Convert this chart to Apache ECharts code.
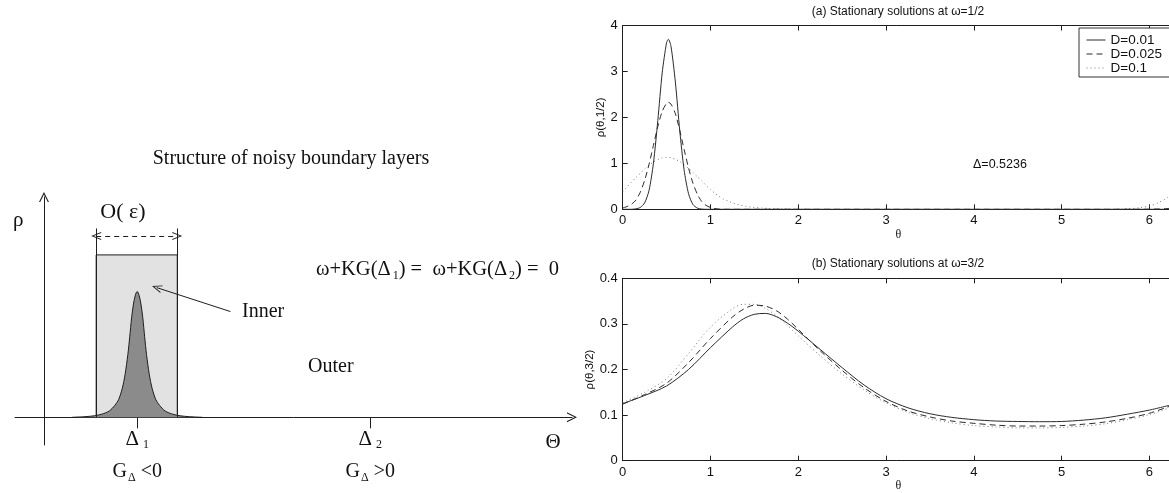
<!DOCTYPE html>
<html>
<head>
<meta charset="utf-8">
<script src="https://cdn.jsdelivr.net/npm/echarts@6/dist/echarts.min.js"></script>
<style>
  html, body { margin: 0; padding: 0; background: #fff; }
  #chart { width: 1169px; height: 493px; }
</style>
</head>
<body>
<div id="chart"></div>
<script>
// ---- (a) stationary densities at omega = 1/2 ----
const thetaA = [0, 0.05, 0.1, 0.15, 0.2, 0.25, 0.3, 0.35, 0.4, 0.45, 0.5, 0.52, 0.55, 0.6, 0.65, 0.7,
  0.75, 0.8, 0.85, 0.9, 0.95, 1.0, 1.05, 1.1, 1.15, 1.2, 1.25, 1.3, 1.35, 1.4, 1.45, 1.5, 1.6, 1.8,
  2.0, 2.5, 3.0, 4.0, 5.0, 5.5, 5.6, 5.7, 5.8, 5.9, 6.0, 6.1, 6.2, 6.2832];
const rhoA_D001 = [0, 0, 0, 0.01, 0.04, 0.14, 0.41, 1.0, 1.93, 2.97, 3.63, 3.70, 3.55, 2.77, 1.71, 0.85,
  0.34, 0.105, 0.026, 0.005, 0, 0, 0, 0, 0, 0, 0, 0, 0, 0, 0, 0, 0, 0,
  0, 0, 0, 0, 0, 0, 0, 0, 0, 0, 0, 0, 0, 0];
const rhoA_D0025 = [0.03, 0.06, 0.11, 0.20, 0.37, 0.63, 0.98, 1.39, 1.80, 2.13, 2.31, 2.33, 2.29, 2.08, 1.72, 1.30,
  0.90, 0.57, 0.33, 0.17, 0.085, 0.04, 0.015, 0.005, 0, 0, 0, 0, 0, 0, 0, 0, 0, 0,
  0, 0, 0, 0, 0, 0, 0, 0, 0, 0.001, 0.003, 0.007, 0.015, 0.03];
const rhoA_D01 = [0.38, 0.49, 0.59, 0.69, 0.78, 0.88, 0.96, 1.03, 1.08, 1.12, 1.13, 1.13, 1.12, 1.09, 1.04, 0.97,
  0.89, 0.80, 0.71, 0.62, 0.52, 0.43, 0.35, 0.28, 0.22, 0.18, 0.14, 0.11, 0.085, 0.065, 0.05, 0.04, 0.025, 0.01,
  0.003, 0, 0, 0, 0, 0, 0.003, 0.008, 0.017, 0.035, 0.07, 0.14, 0.25, 0.38];

// ---- (b) stationary densities at omega = 3/2 ----
const thetaB = [0, 0.25, 0.5, 0.75, 1.0, 1.25, 1.375, 1.5, 1.625, 1.75, 1.875, 2.0, 2.25, 2.5, 2.75, 3.0,
  3.25, 3.5, 3.75, 4.0, 4.25, 4.5, 4.75, 5.0, 5.25, 5.5, 5.75, 6.0, 6.2832];
const rhoB_D001 = [0.125, 0.143, 0.164, 0.200, 0.248, 0.293, 0.311, 0.321, 0.323, 0.316, 0.302, 0.284, 0.244, 0.204, 0.166, 0.136,
  0.116, 0.103, 0.095, 0.090, 0.087, 0.086, 0.0855, 0.086, 0.089, 0.094, 0.102, 0.111, 0.124];
const rhoB_D0025 = [0.124, 0.145, 0.170, 0.215, 0.268, 0.315, 0.332, 0.341, 0.339, 0.329, 0.311, 0.288, 0.241, 0.198, 0.160, 0.130,
  0.109, 0.096, 0.087, 0.082, 0.078, 0.076, 0.076, 0.077, 0.080, 0.085, 0.093, 0.104, 0.123];
const rhoB_D01 = [0.127, 0.150, 0.180, 0.235, 0.293, 0.333, 0.343, 0.343, 0.334, 0.318, 0.297, 0.274, 0.230, 0.190, 0.155, 0.127,
  0.106, 0.092, 0.083, 0.077, 0.074, 0.072, 0.072, 0.073, 0.076, 0.081, 0.090, 0.101, 0.120];

const seriesNames = ['D=0.01', 'D=0.025', 'D=0.1'];
const TWO_PI = 6.2832;

// ---- schematic of the boundary layers ----
const deltaMarks = [1, 3.5];
const deltaSubs = ['1', '2'];
const deltaSigns = ['<0', '>0'];
const innerLayer = [0.56, 1.43];
const layerTop = 1.29;
const bracketTop = 1.5;
const bracketArrowY = 1.44;
const innerArrow = [[2.0, 0.84], [1.21, 1.03]];
const peakX = [0.3, 0.44, 0.54, 0.62, 0.70, 0.76, 0.80, 0.84, 0.87, 0.90, 0.92, 0.94, 0.96, 0.98, 1.0,
  1.02, 1.04, 1.06, 1.08, 1.10, 1.13, 1.16, 1.20, 1.24, 1.30, 1.38, 1.46, 1.56, 1.70];
const peakY = [0, 0.005, 0.012, 0.025, 0.05, 0.095, 0.14, 0.23, 0.34, 0.5, 0.64, 0.79, 0.9, 0.97, 1.0,
  0.97, 0.9, 0.79, 0.64, 0.5, 0.34, 0.23, 0.14, 0.095, 0.05, 0.025, 0.012, 0.005, 0];

const pairs = (xs, ys) => xs.map((x, i) => [x, ys[i]]);

const SANS = 'Liberation Sans';
const SERIF = 'Liberation Serif';
const INK = '#1e1e1e';
const openArrow = 'path://M5,0 L10,10 L8.8,10 L5,2.4 L1.2,10 L0,10 Z';

const lineStyles = [
  { color: '#2b2b2b', width: 1, type: 'solid' },
  { color: '#2b2b2b', width: 1, type: [6, 4] },
  { color: '#7a7a7a', width: 1, type: [1, 3] }
];

function frameX(gridIndex, nameGap) {
  const base = {
    type: 'value', gridIndex, min: 0, max: TWO_PI, interval: 1,
    axisLine: { show: true, onZero: false, lineStyle: { color: INK, width: 1 } },
    axisTick: { show: true, inside: true, length: 5, lineStyle: { color: INK } },
    splitLine: { show: false }
  };
  return [
    Object.assign({}, base, {
      position: 'bottom',
      axisLabel: { margin: 5, color: '#111', fontFamily: SANS, fontSize: 13, showMaxLabel: false },
      name: 'θ', nameLocation: 'middle', nameGap,
      nameTextStyle: { fontFamily: SERIF, fontSize: 12, color: '#111' }
    }),
    Object.assign({}, base, { position: 'top', axisLabel: { show: false } })
  ];
}

function frameY(gridIndex, max, interval, name, nameGap) {
  const base = {
    type: 'value', gridIndex, min: 0, max, interval,
    axisLine: { show: true, onZero: false, lineStyle: { color: INK, width: 1 } },
    axisTick: { show: true, inside: true, length: 5, lineStyle: { color: INK } },
    splitLine: { show: false }
  };
  return [
    Object.assign({}, base, {
      position: 'left',
      axisLabel: { margin: 5, color: '#111', fontFamily: SANS, fontSize: 13 },
      name, nameLocation: 'middle', nameGap,
      nameTextStyle: { fontFamily: SANS, fontSize: 11.5, color: '#111' }
    }),
    Object.assign({}, base, { position: 'right', axisLabel: { show: false } })
  ];
}

const curveSeries = [];
[rhoA_D001, rhoA_D0025, rhoA_D01].forEach((ys, i) => curveSeries.push({
  type: 'line', name: seriesNames[i], xAxisIndex: 0, yAxisIndex: 0,
  data: pairs(thetaA, ys), symbol: 'none', smooth: 0.25,
  lineStyle: lineStyles[i], itemStyle: { color: lineStyles[i].color }, z: 5 - i
}));
[rhoB_D001, rhoB_D0025, rhoB_D01].forEach((ys, i) => curveSeries.push({
  type: 'line', name: seriesNames[i], xAxisIndex: 2, yAxisIndex: 2,
  data: pairs(thetaB, ys), symbol: 'none', smooth: 0.3,
  lineStyle: lineStyles[i], itemStyle: { color: lineStyles[i].color }, z: 5 - i
}));

const chart = echarts.init(document.getElementById('chart'), null, { renderer: 'canvas' });

chart.setOption({
  animation: false,
  backgroundColor: '#ffffff',
  grid: [
    { left: 622.7, top: 25.5, width: 551.5, height: 183.8, containLabel: false, outerBoundsMode: 'none' },
    { left: 622.7, top: 278.3, width: 551.5, height: 182.4, containLabel: false, outerBoundsMode: 'none' },
    { left: 15, top: 197, width: 557, height: 248, containLabel: false, outerBoundsMode: 'none' }
  ],
  xAxis: [
    ...frameX(0, 20),
    ...frameX(1, 14),
    {
      type: 'value', gridIndex: 2, min: -0.311, max: 5.665,
      axisLine: { show: true, onZero: true, symbol: ['none', openArrow], symbolSize: [10, 13],
        lineStyle: { color: INK, width: 1 } },
      axisTick: { show: true, customValues: deltaMarks, length: 11, inside: false, lineStyle: { color: INK } },
      axisLabel: {
        show: true, customValues: deltaMarks, margin: -19, color: '#111',
        formatter: (v) => {
          const i = deltaMarks.indexOf(v);
          return '{d|Δ}{s|' + deltaSubs[i] + '}\n{g|G}{gs|Δ}{g| ' + deltaSigns[i] + '}';
        },
        rich: {
          d: { fontFamily: SERIF, fontSize: 21, lineHeight: 27, color: '#111' },
          s: { fontFamily: SERIF, fontSize: 12, padding: [11, 0, 0, 4], color: '#111' },
          g: { fontFamily: SERIF, fontSize: 20, lineHeight: 37, color: '#111' },
          gs: { fontFamily: SERIF, fontSize: 12, padding: [12, 0, 0, 1], color: '#111' }
        }
      },
      splitLine: { show: false }
    }
  ],
  yAxis: [
    ...frameY(0, 4, 1, 'ρ(θ,1/2)', 13),
    ...frameY(1, 0.4, 0.1, 'ρ(θ,3/2)', 23),
    {
      type: 'value', gridIndex: 2, min: -0.22, max: 1.75,
      axisLine: { show: true, onZero: true, symbol: ['none', openArrow], symbolSize: [10, 13],
        lineStyle: { color: INK, width: 1 } },
      axisTick: { show: false }, axisLabel: { show: false }, splitLine: { show: false }
    }
  ],
  legend: {
    orient: 'vertical', left: 1079, top: 28, data: seriesNames,
    itemWidth: 19, itemHeight: 10, itemGap: 0, itemStyle: { opacity: 0 },
    lineStyle: { width: 1 },
    padding: [5, 40, 2, 7], borderColor: '#333', borderWidth: 1, backgroundColor: '#fff',
    textStyle: { fontFamily: SANS, fontSize: 13.5, lineHeight: 14, color: '#111' },
    selectedMode: false
  },
  series: [
    ...curveSeries,
    {
      // shaded inner layer
      type: 'line', xAxisIndex: 4, yAxisIndex: 4, data: [], z: 1,
      markArea: {
        silent: true,
        itemStyle: { color: '#e2e2e2', borderColor: INK, borderWidth: 1 },
        data: [[{ coord: [innerLayer[0], 0] }, { coord: [innerLayer[1], layerTop] }]]
      }
    },
    {
      // inner-layer peak
      type: 'line', xAxisIndex: 4, yAxisIndex: 4, data: pairs(peakX, peakY), z: 3,
      symbol: 'none', smooth: 0.3,
      lineStyle: { color: INK, width: 1 },
      areaStyle: { color: '#8b8b8b', opacity: 1 }
    },
    {
      // bracket and pointer lines
      type: 'line', xAxisIndex: 4, yAxisIndex: 4, data: [], z: 4,
      markLine: {
        silent: true, symbol: ['none', 'none'], symbolSize: [8, 10],
        label: { show: false },
        lineStyle: { color: INK, width: 1, type: 'solid' },
        data: [
          [{ coord: [innerLayer[0], 0] }, { coord: [innerLayer[0], bracketTop] }],
          [{ coord: [innerLayer[1], 0] }, { coord: [innerLayer[1], bracketTop] }],
          [
            { coord: [innerLayer[0], bracketArrowY], symbol: openArrow, lineStyle: { type: [5, 4] } },
            { coord: [innerLayer[1], bracketArrowY], symbol: openArrow, lineStyle: { type: [5, 4] } }
          ],
          [
            { coord: innerArrow[0], symbol: 'none' },
            { coord: innerArrow[1], symbol: openArrow }
          ]
        ]
      }
    }
  ],
  graphic: [
    { type: 'text', x: 898, y: 12, style: { text: '(a) Stationary solutions at ω=1/2', font: '12px "Liberation Sans"', fill: '#111', align: 'center', verticalAlign: 'middle' } },
    { type: 'text', x: 898, y: 264, style: { text: '(b) Stationary solutions at ω=3/2', font: '12px "Liberation Sans"', fill: '#111', align: 'center', verticalAlign: 'middle' } },
    { type: 'text', x: 973, y: 165, style: { text: 'Δ=0.5236', font: '12.5px "Liberation Sans"', fill: '#111', align: 'left', verticalAlign: 'middle' } },
    { type: 'text', x: 291, y: 159, style: { text: 'Structure of noisy boundary layers', font: '20px "Liberation Serif"', fill: '#111', align: 'center', verticalAlign: 'middle' } },
    { type: 'text', x: 13, y: 220, style: { text: 'ρ', font: '21px "Liberation Serif"', fill: '#111', align: 'left', verticalAlign: 'middle' } },
    { type: 'text', x: 123, y: 212, style: { text: 'O( ε)', font: '22px "Liberation Serif"', fill: '#111', align: 'center', verticalAlign: 'middle' } },
    { type: 'text', x: 242, y: 312, style: { text: 'Inner', font: '20px "Liberation Serif"', fill: '#111', align: 'left', verticalAlign: 'middle' } },
    { type: 'text', x: 308, y: 367, style: { text: 'Outer', font: '20px "Liberation Serif"', fill: '#111', align: 'left', verticalAlign: 'middle' } },
    { type: 'text', x: 553, y: 442, style: { text: 'Θ', font: '21px "Liberation Serif"', fill: '#111', align: 'center', verticalAlign: 'middle' } },
    {
      type: 'text', x: 316, y: 270,
      style: {
        text: '{t|ω+KG(Δ}{s|1}{t|) =  ω+KG(Δ}{s|2}{t|) =  0}',
        align: 'left', verticalAlign: 'middle',
        rich: {
          t: { fontFamily: SERIF, fontSize: 20.5, fill: '#111' },
          s: { fontFamily: SERIF, fontSize: 12, fill: '#111', padding: [11, 0, 0, 2] }
        }
      }
    }
  ]
});
</script>
</body>
</html>
